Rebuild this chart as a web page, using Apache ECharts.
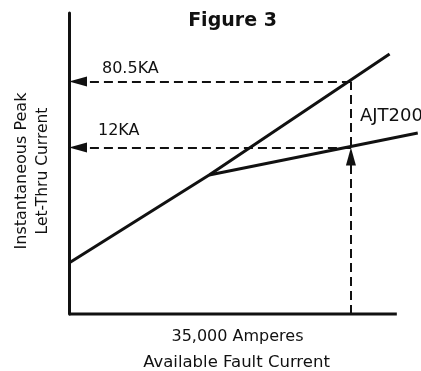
<!DOCTYPE html>
<html>
<head>
<meta charset="utf-8">
<title>Figure 3</title>
<script src="https://cdn.jsdelivr.net/npm/echarts@6/dist/echarts.min.js"></script>
<style>
  html, body { margin: 0; padding: 0; background: #fff; }
  #chart { width: 421px; height: 371px; }
</style>
</head>
<body>
<div id="chart"></div>
<script>
// Available fault current (kA) on x, instantaneous peak let-thru current (kA, log) on y.
const unlimitedCurve = [[0, 0.429], [17.4, 5.43], [39.8, 178]];   // no fuse: peak rises steeply
const limitedCurve = [[17.4, 5.43], [43.3, 18.2]];                // AJT200 fuse: peak limited
const faultCurrent = 35;                                          // kA, the worked example
const peakValues = [80.5, 12];                                    // kA, unlimited vs. limited peak
const peakLabels = ['80.5KA', '12KA'];
const faultLabel = '35,000 Amperes';
const fuseLabel = 'AJT200';

const X_AXIS_END = 40.7;   // where the drawn x axis stops
const X_MAX = 43.7;        // plot extent reaches the right edge so the curve can run past the axis
const Y_MIN = 0.0986;
const Y_MAX = 580;

const INK = '#111';
const FONT = 'DejaVu Sans';

const chart = echarts.init(document.getElementById('chart'), null, { renderer: 'canvas' });

const dashStyle = { color: INK, width: 2, type: [9, 5], opacity: 1 };

// Dashed guide lines: from each curve at the fault current back to the y axis,
// and the vertical from the x axis up through the fault current.
const guideLines = [
  { coords: [[faultCurrent, peakValues[0]], [0, peakValues[0]]] },
  { coords: [[faultCurrent, peakValues[1]], [0, peakValues[1]]] },
  { coords: [[faultCurrent, Y_MIN], [faultCurrent, peakValues[0]]] }
];

// Arrow heads: pointing left at the y axis, and pointing up at the limited peak.
const leftArrows = peakValues.map(v => [0, v]);
const upArrows = [[faultCurrent, peakValues[1]]];

const noDecor = {
  axisTick: { show: false },
  axisLabel: { show: false },
  splitLine: { show: false }
};

function txt(text, x, y, size, opts) {
  return Object.assign({
    type: 'text',
    x: x, y: y,
    style: Object.assign({
      text: text,
      font: (opts && opts.bold ? 'bold ' : '') + size + 'px "' + FONT + '"',
      fill: INK,
      align: 'center',
      verticalAlign: 'middle'
    }, opts && opts.style)
  }, opts && opts.el);
}

chart.setOption({
  animation: false,
  backgroundColor: '#fff',
  grid: { left: 69, right: 0, top: 13, bottom: 57, containLabel: false, outerBoundsMode: 'none' },
  xAxis: Object.assign({ type: 'value', min: 0, max: X_MAX, axisLine: { show: false } }, noDecor),
  yAxis: Object.assign({
    type: 'log', logBase: 10, min: Y_MIN, max: Y_MAX,
    axisLine: { show: true, onZero: false, lineStyle: { color: INK, width: 3 } }
  }, noDecor),
  series: [
    {
      // horizontal axis line, stopping short of the plot's right edge
      type: 'line', data: [[0, Y_MIN], [X_AXIS_END, Y_MIN]], symbol: 'none', clip: false,
      lineStyle: { color: INK, width: 3 }, z: 5, silent: true
    },
    {
      type: 'line', data: unlimitedCurve, symbol: 'none', clip: false,
      lineStyle: { color: INK, width: 3 }, z: 3
    },
    {
      type: 'line', data: limitedCurve, symbol: 'none', clip: false,
      lineStyle: { color: INK, width: 3 }, z: 3
    },
    {
      type: 'lines', coordinateSystem: 'cartesian2d', polyline: false,
      data: guideLines, symbol: 'none',
      lineStyle: dashStyle, z: 2
    },
    {
      type: 'scatter', data: leftArrows, clip: false,
      symbol: 'path://M0,5 L18,0 L18,10 Z', symbolSize: [18, 10], symbolOffset: [9, 0],
      itemStyle: { color: INK, opacity: 1 }, z: 4
    },
    {
      type: 'scatter', data: upArrows, clip: false,
      symbol: 'path://M5,0 L10,18 L0,18 Z', symbolSize: [10, 18], symbolOffset: [0, 9],
      itemStyle: { color: INK, opacity: 1 }, z: 4
    }
  ],
  graphic: [
    txt('Figure 3', 232.5, 21.5, 19, { bold: true }),
    txt(peakLabels[0], 102, 68.5, 16, { style: { align: 'left' } }),
    txt(peakLabels[1], 98, 130.5, 16, { style: { align: 'left' } }),
    txt(fuseLabel, 360, 116, 18, { style: { align: 'left' } }),
    txt(faultLabel, 237.5, 337, 16),
    txt('Available Fault Current', 236.5, 363, 16.5),
    txt('Instantaneous Peak', 22, 171, 16, { el: { rotation: Math.PI / 2 } }),
    txt('Let-Thru Current', 43, 171, 15.5, { el: { rotation: Math.PI / 2 } })
  ]
});
</script>
</body>
</html>
